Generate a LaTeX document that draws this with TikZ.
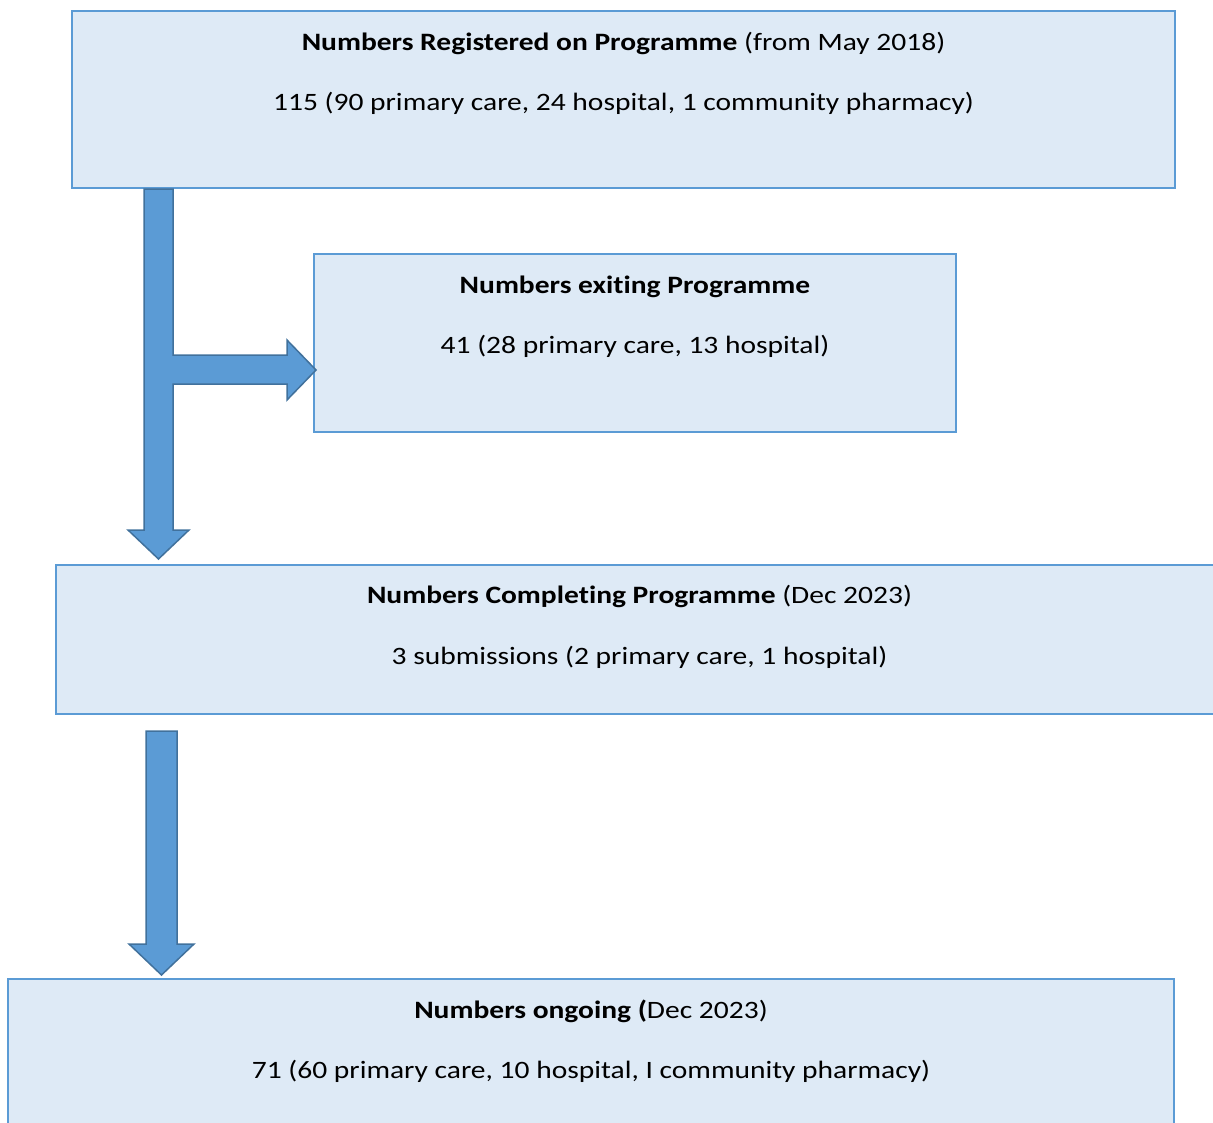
\documentclass[tikz,border=0pt]{standalone}
\usepackage{fontspec}
\setmainfont[FakeStretch=1.18,Ligatures=NoCommon,RawFeature={-liga;-clig;-dlig}]{Carlito}
\newcommand{\tiX}{t\kern0pt i}
\definecolor{boxfill}{HTML}{DEEAF6}
\definecolor{boxline}{HTML}{5B9BD5}
\definecolor{arrfill}{HTML}{5B9BD5}
\definecolor{arrline}{HTML}{41719C}
\begin{document}
\begin{tikzpicture}[x=1pt,y=-1pt,
  bx/.style={draw=boxline,fill=boxfill,line width=2pt},
  txt/.style={font=\fontsize{25}{29}\selectfont,inner sep=0pt,anchor=base},
  blockarrow/.style={fill=arrfill,draw=arrline,line width=1.5pt,line join=miter}]
\useasboundingbox (0,0) rectangle (1213,1122);
\clip (0,0) rectangle (1213,1122);
% boxes
\path[bx] (72,11) rectangle (1175,188);
\path[bx] (314,254) rectangle (956,432);
\path[bx] (56,565) rectangle (1225,714);
\path[bx] (8,979) rectangle (1174,1135);
% texts
\node[txt] (t1a) at (623.5,50) {\textbf{Numbers Registered on Programme} (from May 2018)};
\node[txt] (t1b) at (623.5,110) {115 (90 primary care, 24 hospital, 1 community pharmacy)};
\node[txt] (t2a) at (635,293) {\textbf{Numbers exi\tiX ng Programme}};
\node[txt] (t2b) at (635,353) {41 (28 primary care, 13 hospital)};
\node[txt] (t3a) at (639.5,603) {\textbf{Numbers Comple\tiX ng Programme} (Dec 2023)};
\node[txt] (t3b) at (639.5,664) {3 submissions (2 primary care, 1 hospital)};
\node[txt] (t4a) at (591,1018) {\textbf{Numbers ongoing (}Dec 2023)};
\node[txt] (t4b) at (591,1078) {71 (60 primary care, 10 hospital, I community pharmacy)};
% arrow 1 with branch
\path[blockarrow] (144,189) -- (173,189) -- (173,355) -- (287,355) -- (287,340)
  -- (316,370) -- (287,400) -- (287,384) -- (173,384) -- (173,530)
  -- (189,530) -- (158.5,559) -- (128,530) -- (144,530) -- cycle;
% arrow 2
\path[blockarrow] (146,731) -- (177,731) -- (177,944) -- (194,944) -- (161.5,975)
  -- (129,944) -- (146,944) -- cycle;
\end{tikzpicture}
\end{document}
